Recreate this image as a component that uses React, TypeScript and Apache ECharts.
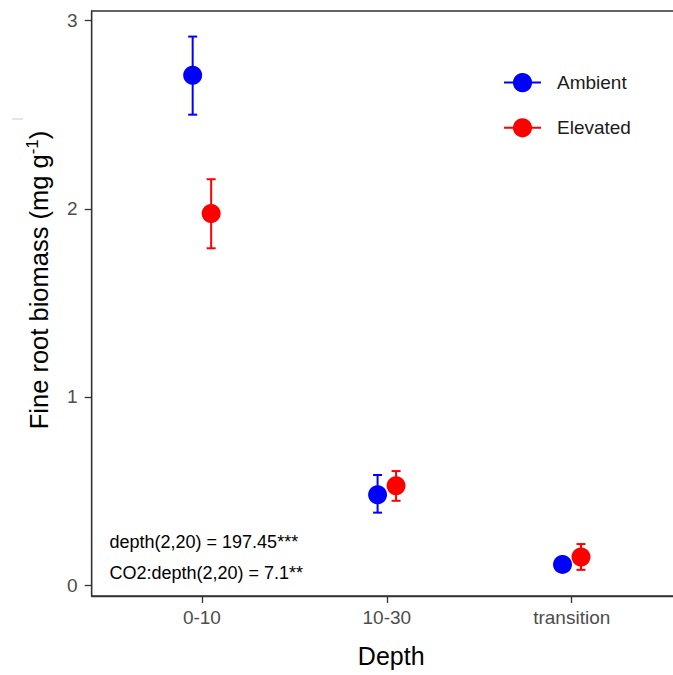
import React, { useEffect, useRef } from "react";
import * as echarts from "echarts";

const categories = ["0-10", "10-30", "transition"];
const ambientMean = [2.71, 0.48, 0.11];
const ambientLow = [2.5, 0.385, 0.09];
const ambientHigh = [2.915, 0.585, 0.13];
const elevatedMean = [1.975, 0.528, 0.149];
const elevatedLow = [1.79, 0.448, 0.081];
const elevatedHigh = [2.157, 0.606, 0.218];
const yTicks = [0, 1, 2, 3];
const xTicks = [1, 2, 3];
const groups = ["Ambient", "Elevated"];
const annotations = ["depth(2,20) = 197.45***", "CO2:depth(2,20) = 7.1**"];

const FONT = "'Liberation Sans', Arial, sans-serif";
const BLUE = "#0000FF";
const RED = "#FF0000";
const DODGE = 0.05;

function errorBarSeries(name: string, color: string, offset: number, lo: number[], hi: number[]) {
  return {
    type: "custom",
    name: name + " error",
    z: 2,
    data: lo.map((l, i) => [i + 1 + offset, l, hi[i]]),
    encode: { x: 0, y: [1, 2] },
    renderItem: (params: any, api: any) => {
      const x = api.value(0);
      const p1 = api.coord([x, api.value(2)]);
      const p2 = api.coord([x, api.value(1)]);
      const hw = 4.5;
      const style = { stroke: color, lineWidth: 2 };
      return {
        type: "group",
        children: [
          { type: "line", shape: { x1: p1[0], y1: p1[1], x2: p2[0], y2: p2[1] }, style },
          { type: "line", shape: { x1: p1[0] - hw, y1: p1[1], x2: p1[0] + hw, y2: p1[1] }, style },
          { type: "line", shape: { x1: p2[0] - hw, y1: p2[1], x2: p2[0] + hw, y2: p2[1] }, style },
        ],
      };
    },
  };
}

function pointSeries(name: string, color: string, offset: number, mean: number[]) {
  return {
    type: "scatter",
    name: name + " mean",
    z: 3,
    symbol: "circle",
    symbolSize: 19,
    itemStyle: { color, opacity: 1 },
    data: mean.map((m, i) => [i + 1 + offset, m]),
  };
}

export default function App() {
  const ref = useRef<HTMLDivElement>(null);
  useEffect(() => {
    if (!ref.current) return;
    const chart = echarts.init(ref.current, null, { renderer: "svg" });
    const option: any = {
      animation: false,
      backgroundColor: "#ffffff",
      grid: {
        left: 91.7,
        top: 11,
        width: 591,
        height: 585,
        outerBoundsMode: "none",
        containLabel: false,
        show: true,
        borderColor: "#333333",
        borderWidth: 1.3,
        backgroundColor: "transparent",
      },
      legend: {
        orient: "vertical",
        left: 503,
        top: 73,
        padding: 0,
        itemWidth: 37,
        itemHeight: 24,
        itemGap: 26,
        selectedMode: false,
        data: groups,
        textStyle: { fontSize: 19, color: "#1a1a1a", fontFamily: FONT, padding: [0, 0, 0, 11] },
      },
      xAxis: {
        type: "value",
        min: 0.404,
        max: 3.6,
        name: "Depth",
        nameLocation: "middle",
        nameGap: 47,
        nameTextStyle: { fontSize: 25, color: "#000", fontFamily: FONT, padding: [0, 0, 0, 8] },
        splitLine: { show: false },
        axisLine: { show: true, onZero: false, lineStyle: { color: "#333333", width: 1.3 } },
        axisTick: { show: true, customValues: xTicks, length: 7, lineStyle: { color: "#333333", width: 1.3 } },
        axisLabel: {
          customValues: xTicks,
          formatter: (v: number) => categories[Math.round(v) - 1] ?? "",
          fontSize: 19,
          color: "#4d4d4d",
          fontFamily: FONT,
          margin: 12,
        },
      },
      yAxis: {
        type: "value",
        min: -0.058,
        max: 3.051,
        splitLine: { show: false },
        axisLine: { show: true, onZero: false, lineStyle: { color: "#333333", width: 1.3 } },
        axisTick: { show: true, customValues: yTicks, length: 7, lineStyle: { color: "#333333", width: 1.3 } },
        axisLabel: {
          customValues: yTicks,
          fontSize: 19,
          color: "#4d4d4d",
          fontFamily: FONT,
          margin: 14,
        },
      },
      graphic: [
        {
          type: "text",
          x: 39,
          y: 280,
          rotation: Math.PI / 2,
          style: {
            text: "{a|Fine root biomass (mg g}{s|-1}{a|)}",
            align: "center",
            verticalAlign: "middle",
            fill: "#000",
            rich: {
              a: { fontSize: 25.5, fontFamily: FONT, fill: "#000", lineHeight: 30 },
              s: { fontSize: 17, fontFamily: FONT, fill: "#000", verticalAlign: "top", lineHeight: 30, padding: [0, 0, 12, 0] },
            },
          },
        },
        {
          type: "text",
          left: 109.5,
          top: 533,
          style: { text: annotations[0], fontSize: 18, fontFamily: FONT, fill: "#000" },
        },
        {
          type: "text",
          left: 109.5,
          top: 564,
          style: { text: annotations[1], fontSize: 18, fontFamily: FONT, fill: "#000" },
        },
        {
          type: "line",
          shape: { x1: 12, y1: 119, x2: 23, y2: 119 },
          style: { stroke: "#dddddd", lineWidth: 1.5 },
        },
      ],
      series: [
        { type: "line", name: groups[0], data: [], symbol: "circle", symbolSize: 19, itemStyle: { color: BLUE }, lineStyle: { color: BLUE, width: 2 } },
        { type: "line", name: groups[1], data: [], symbol: "circle", symbolSize: 19, itemStyle: { color: RED }, lineStyle: { color: RED, width: 2 } },
        errorBarSeries(groups[0], BLUE, -DODGE, ambientLow, ambientHigh),
        errorBarSeries(groups[1], RED, DODGE, elevatedLow, elevatedHigh),
        pointSeries(groups[0], BLUE, -DODGE, ambientMean),
        pointSeries(groups[1], RED, DODGE, elevatedMean),
      ],
    };
    chart.setOption(option);
    return () => chart.dispose();
  }, []);
  return (
    <div
      ref={ref}
      style={{ position: "fixed", left: 0, top: 0, width: 673, height: 675, background: "#fff" }}
    />
  );
}
